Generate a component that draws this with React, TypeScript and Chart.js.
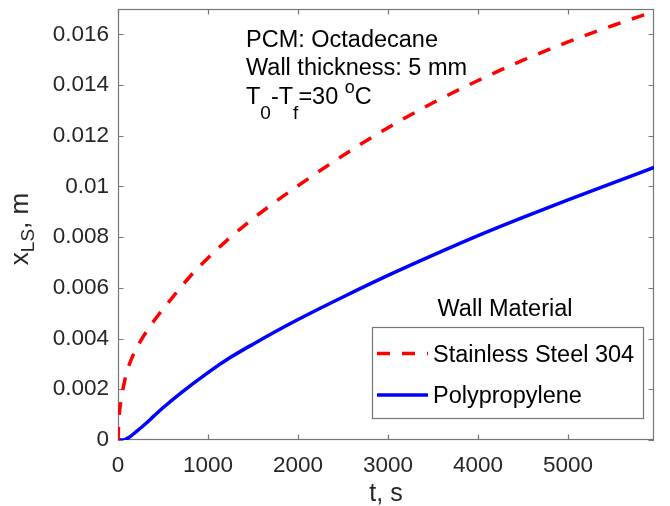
import { useEffect, useRef } from 'react';
import { Chart, registerables } from 'chart.js';

Chart.register(...registerables);

// ---- Data ----
const steelTime = [0, 10, 30, 60, 100, 150, 250, 400, 600, 800, 1000, 1250, 1500, 1750, 2000, 2500, 3000, 3500, 4000, 4500, 5000, 5500, 5955];
const steelX = [0, 0.0008, 0.0015, 0.0021, 0.0027, 0.0032, 0.0039, 0.0047, 0.0056, 0.00645, 0.00718, 0.008, 0.00873, 0.0094, 0.01003, 0.01122, 0.01232, 0.0133, 0.01418, 0.01498, 0.0157, 0.01635, 0.0169];

const polyTime = [0, 60, 120, 200, 300, 400, 500, 700, 1000, 1250, 1500, 2000, 2500, 3000, 3500, 4000, 4500, 5000, 5500, 5955];
const polyX = [0, 0, 0.0001, 0.00032, 0.00062, 0.00095, 0.00127, 0.00186, 0.00266, 0.00326, 0.00378, 0.00475, 0.00564, 0.00649, 0.00729, 0.00806, 0.00878, 0.00947, 0.01014, 0.01075];

const seriesNames = ['Stainless Steel 304', 'Polypropylene'];
const legendTitle = 'Wall Material';

const xTicks = [0, 1000, 2000, 3000, 4000, 5000];
const xTickLabels = ['0', '1000', '2000', '3000', '4000', '5000'];
const yTicks = [0, 0.002, 0.004, 0.006, 0.008, 0.01, 0.012, 0.014, 0.016];
const yTickLabels = ['0', '0.002', '0.004', '0.006', '0.008', '0.01', '0.012', '0.014', '0.016'];

const xMin = 0;
const xMax = 5955;
const yMin = 0;
const yMax = 0.017;

const xTitle = 't, s';
const yTitleMain = 'x';
const yTitleSub = 'LS';
const yTitleRest = ', m';

const noteLine1 = 'PCM: Octadecane';
const noteLine2 = 'Wall thickness: 5 mm';

const FONT = '"Liberation Sans", Arial, Helvetica, sans-serif';

type Seg = { text: string; size: number; dy: number };

function drawSegs(ctx: CanvasRenderingContext2D, segs: Seg[], x: number, y: number) {
  let cx = x;
  for (const s of segs) {
    ctx.font = `${s.size}px ${FONT}`;
    ctx.fillText(s.text, cx, y + s.dy);
    cx += ctx.measureText(s.text).width;
  }
}

function segsWidth(ctx: CanvasRenderingContext2D, segs: Seg[]) {
  let w = 0;
  for (const s of segs) {
    ctx.font = `${s.size}px ${FONT}`;
    w += ctx.measureText(s.text).width;
  }
  return w;
}

const matlabPlugin = {
  id: 'matlabLook',
  beforeDatasetsDraw(chart: any) {
    const ctx: CanvasRenderingContext2D = chart.ctx;
    const a = chart.chartArea;
    const xs = chart.scales.x;
    const ys = chart.scales.y;
    ctx.save();
    ctx.strokeStyle = '#767676';
    ctx.lineWidth = 1.2;
    ctx.strokeRect(a.left + 0.5, a.top + 0.5, a.right - a.left - 1, a.bottom - a.top - 1);
    const tl = 5.5;
    ctx.beginPath();
    for (const v of xTicks) {
      const px = Math.round(xs.getPixelForValue(v)) + 0.5;
      ctx.moveTo(px, a.bottom);
      ctx.lineTo(px, a.bottom - tl);
      ctx.moveTo(px, a.top);
      ctx.lineTo(px, a.top + tl);
    }
    for (const v of yTicks) {
      const py = Math.round(ys.getPixelForValue(v)) + 0.5;
      ctx.moveTo(a.left, py);
      ctx.lineTo(a.left + tl, py);
      ctx.moveTo(a.right, py);
      ctx.lineTo(a.right - tl, py);
    }
    ctx.stroke();
    ctx.restore();
  },
  afterDraw(chart: any) {
    const ctx: CanvasRenderingContext2D = chart.ctx;
    const a = chart.chartArea;
    const ds = chart.data.datasets;
    ctx.save();

    // x title
    ctx.fillStyle = '#262626';
    ctx.textBaseline = 'alphabetic';
    ctx.textAlign = 'center';
    ctx.font = `25px ${FONT}`;
    ctx.fillText(xTitle, (a.left + a.right) / 2, 501);

    // y title (rotated, with subscript)
    ctx.textAlign = 'left';
    const ySegs: Seg[] = [
      { text: yTitleMain, size: 26, dy: 0 },
      { text: yTitleSub, size: 19, dy: 6 },
      { text: yTitleRest, size: 26, dy: 0 },
    ];
    const yw = segsWidth(ctx, ySegs);
    ctx.save();
    ctx.translate(28, 229);
    ctx.rotate(-Math.PI / 2);
    drawSegs(ctx, ySegs, -yw / 2, 0);
    ctx.restore();

    // annotation
    ctx.fillStyle = '#000000';
    ctx.font = `23.5px ${FONT}`;
    ctx.fillText(noteLine1, 246, 47);
    ctx.fillText(noteLine2, 246, 74.5);
    drawSegs(
      ctx,
      [
        { text: 'T', size: 23.5, dy: 0 },
        { text: '0', size: 19, dy: 15.5 },
        { text: '-T', size: 23.5, dy: 0 },
        { text: 'f', size: 19, dy: 15.5 },
        { text: '=30 ', size: 23.5, dy: 0 },
        { text: 'o', size: 18, dy: -10.6 },
        { text: 'C', size: 23.5, dy: 0 },
      ],
      246,
      103.5
    );

    // legend
    ctx.font = `23.5px ${FONT}`;
    ctx.textAlign = 'center';
    ctx.fillText(legendTitle, 505, 316);
    ctx.fillStyle = '#ffffff';
    ctx.fillRect(372.5, 327.5, 271, 91);
    ctx.strokeStyle = '#767676';
    ctx.lineWidth = 1.2;
    ctx.strokeRect(372.5, 327.5, 271, 91);

    const rows = [353.5, 395];
    ds.forEach((d: any, i: number) => {
      const y = rows[i];
      ctx.beginPath();
      ctx.strokeStyle = d.borderColor;
      ctx.lineWidth = d.borderWidth;
      ctx.setLineDash(d.borderDash || []);
      ctx.lineDashOffset = 0;
      ctx.moveTo(377, y);
      ctx.lineTo(428, y);
      ctx.stroke();
      ctx.setLineDash([]);
      ctx.fillStyle = '#000000';
      ctx.textAlign = 'left';
      ctx.textBaseline = 'alphabetic';
      ctx.font = `23.5px ${FONT}`;
      ctx.fillText(d.label, 433, y + 8);
    });

    ctx.restore();
  },
};

export default function App() {
  const ref = useRef<HTMLCanvasElement | null>(null);

  useEffect(() => {
    if (!ref.current) return;
    const chart = new Chart(ref.current, {
      type: 'line',
      data: {
        datasets: [
          {
            label: seriesNames[0],
            data: steelTime.map((t, i) => ({ x: t, y: steelX[i] })),
            borderColor: '#ff0000',
            borderWidth: 3.5,
            borderDash: [13, 12],
            pointRadius: 0,
            cubicInterpolationMode: 'monotone',
            fill: false,
          },
          {
            label: seriesNames[1],
            data: polyTime.map((t, i) => ({ x: t, y: polyX[i] })),
            borderColor: '#0000ff',
            borderWidth: 3.5,
            pointRadius: 0,
            cubicInterpolationMode: 'monotone',
            fill: false,
          },
        ],
      },
      options: {
        animation: false,
        responsive: false,
        layout: { padding: { top: 9, right: 16, left: 0, bottom: 0 } },
        plugins: { legend: { display: false }, tooltip: { enabled: false } },
        scales: {
          x: {
            type: 'linear',
            min: xMin,
            max: xMax,
            grid: { display: false, drawTicks: false },
            border: { display: false },
            afterBuildTicks: (s: any) => {
              s.ticks = xTicks.map((v) => ({ value: v }));
            },
            afterFit: (s: any) => {
              s.height = 66;
              s.paddingLeft = 0;
              s.paddingRight = 0;
            },
            ticks: {
              padding: 12,
              maxRotation: 0,
              autoSkip: false,
              color: '#262626',
              font: { family: FONT, size: 22.5 },
              callback: (v: any) => {
                const i = xTicks.indexOf(Number(v));
                return i >= 0 ? xTickLabels[i] : '';
              },
            },
          },
          y: {
            type: 'linear',
            min: yMin,
            max: yMax,
            grid: { display: false, drawTicks: false },
            border: { display: false },
            afterBuildTicks: (s: any) => {
              s.ticks = yTicks.map((v) => ({ value: v }));
            },
            afterFit: (s: any) => {
              s.width = 118;
              s.paddingTop = 0;
              s.paddingBottom = 0;
            },
            ticks: {
              padding: 9,
              autoSkip: false,
              color: '#262626',
              font: { family: FONT, size: 22.5 },
              callback: (v: any) => {
                const i = yTicks.findIndex((t) => Math.abs(t - Number(v)) < 1e-9);
                return i >= 0 ? yTickLabels[i] : '';
              },
            },
          },
        },
      } as any,
      plugins: [matlabPlugin],
    });
    return () => chart.destroy();
  }, []);

  return (
    <div style={{ position: 'absolute', left: 0, top: 0, width: 670, height: 506, background: '#ffffff' }}>
      <canvas ref={ref} width={670} height={506} style={{ display: 'block', width: 670, height: 506 }} />
    </div>
  );
}
